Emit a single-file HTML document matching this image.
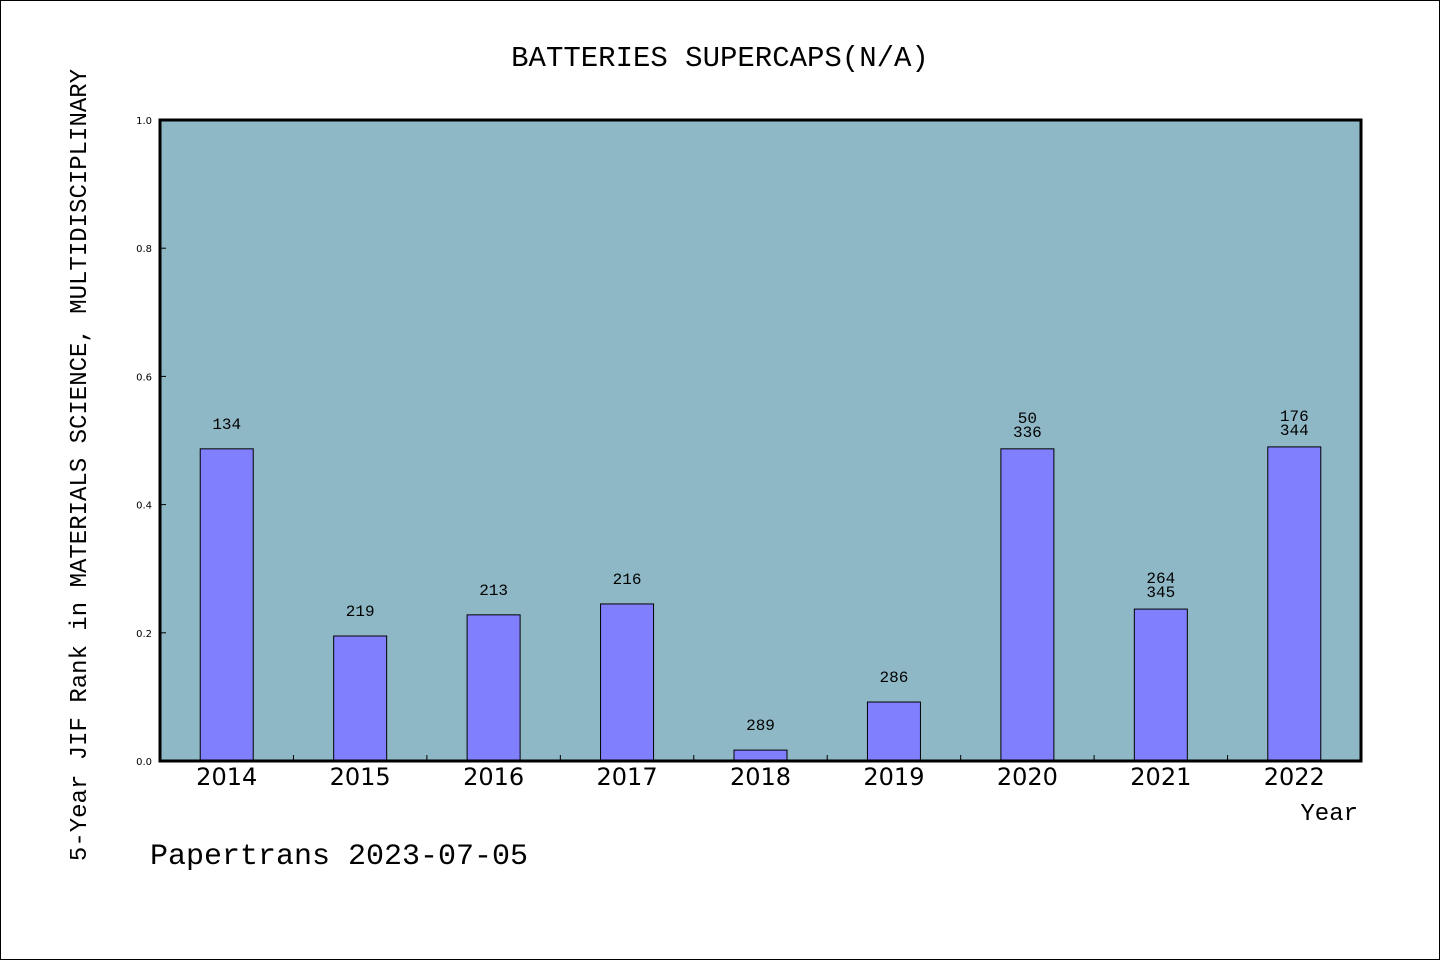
<!DOCTYPE html>
<html><head><meta charset="utf-8"><style>
body{margin:0;background:#fff}
svg{display:block}
.m{font-family:"WenQuanYi Zen Hei","Liberation Mono",monospace}
.s{font-family:"DejaVu Sans","Liberation Sans",sans-serif}
</style></head><body>
<svg id="c" width="1440" height="960">
<rect x="0.5" y="0.5" width="1439" height="959" fill="#fff" stroke="#000"/>
<text class="m" x="720" y="66" text-anchor="middle" font-size="29">BATTERIES SUPERCAPS(N/A)</text>
<rect x="160" y="120" width="1201" height="641" fill="#8fb8c6"/>
<g id="bars"></g>
<rect x="160" y="120" width="1201" height="641" fill="none" stroke="#000" stroke-width="3"/>
<text class="m" transform="translate(86,465) rotate(-90)" text-anchor="middle" font-size="24">5-Year JIF Rank in MATERIALS SCIENCE, MULTIDISCIPLINARY</text>
<text class="m" x="1358" y="820" text-anchor="end" font-size="24">Year</text>
<text class="m" x="150" y="864" font-size="30">Papertrans 2023-07-05</text>
</svg>
<script>
const years=["2014","2015","2016","2017","2018","2019","2020","2021","2022"];
const values=[0.487,0.195,0.228,0.245,0.017,0.092,0.487,0.237,0.490];
const labels=[["134"],["219"],["213"],["216"],["289"],["286"],["50","336"],["264","345"],["176","344"]];
const yTicks=[0,0.2,0.4,0.6,0.8,1.0];
const X0=160,W=1201,Y0=761,H=641;
const step=W/years.length;
const xc=i=>X0+step*(i+0.5);
const y=v=>Y0-v*H;
const NS="http://www.w3.org/2000/svg";
const g=document.getElementById('bars');
function mk(t,a){const e=document.createElementNS(NS,t);for(const k in a)e.setAttribute(k,a[k]);g.appendChild(e);return e;}
years.forEach((yr,i)=>{
  const b=mk('rect',{x:xc(i)-26.5,y:y(values[i]),width:53,height:Y0-y(values[i]),fill:'#8080ff',stroke:'#000','stroke-width':1});
  
  
  const L=labels[i];
  L.forEach((s,j)=>{
    const off=L.length===1?20:(L.length-j)*14-2;
    const t=mk('text',{x:xc(i),y:y(values[i])-off,'text-anchor':'middle','font-size':16,class:'m'});
    t.textContent=s;
    
    
  });
  const xl=mk('text',{x:xc(i),y:785,'text-anchor':'middle','font-size':24,class:'s'});
  xl.textContent=yr;
  
  
  if(i>0){const tk=mk('line',{x1:X0+step*i,x2:X0+step*i,y1:Y0,y2:Y0-6,stroke:'#000'});
  
  }
});
yTicks.forEach(v=>{
  const t=mk('text',{x:152,y:y(v)+4,'text-anchor':'end','font-size':10,class:'s'});
  t.textContent=v.toFixed(1);
  
  
  const l=mk('line',{x1:X0,x2:X0+6,y1:y(v),y2:y(v),stroke:'#000'});
  
  
});
</script>
</body></html>
